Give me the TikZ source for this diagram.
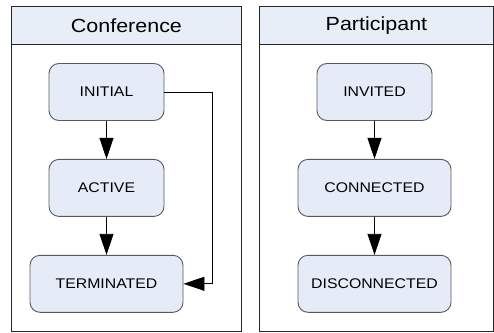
\documentclass[tikz,border=0pt]{standalone}
\usepackage{fontspec}
\setmainfont{Liberation Sans}[FakeStretch=1.13]
\usetikzlibrary{arrows.meta,positioning}

\definecolor{boxfill}{HTML}{E6ECF7}
\definecolor{headfill}{HTML}{E8EEF8}

\tikzset{
  panelhead/.style={draw=black!85, fill=headfill, line width=0.9pt, minimum height=38pt,
    anchor=north west, inner sep=0pt, font=\fontsize{19}{22}\selectfont},
  panelbody/.style={draw=black!85, line width=0.9pt, anchor=north west, inner sep=0pt},
  state/.style={draw=black!65, fill=boxfill, rounded corners=10pt, line width=0.9pt,
    minimum height=57pt, inner sep=0pt, font=\fontsize{14}{16}\selectfont},
  trans/.style={-{Triangle[length=21pt,width=14pt]}, line width=0.8pt},
}

\begin{document}
\begin{tikzpicture}[x=1pt,y=-1pt]
\useasboundingbox (0,0) rectangle (494,332);

% Conference
\node[panelbody, minimum width=230pt, minimum height=287pt] (confbody) at (11,44) {};
\node[panelhead, minimum width=230pt] (confhead) at (11,6) {Conference};

\node[state, minimum width=115pt] (initial) at (106.5,92) {INITIAL};
\node[state, minimum width=115pt, below=38pt of initial] (active) {ACTIVE};
\node[state, minimum width=153pt, below=38pt of active] (terminated) {TERMINATED};

\draw[trans] (initial) -- (active);
\draw[trans] (active) -- (terminated);
\draw[trans] (initial.east) -- ++(48,0) |- (terminated.east);

% Participant
\node[panelbody, minimum width=234pt, minimum height=287pt] (partbody) at (259,44) {};
\node[panelhead, minimum width=234pt] (parthead) at (259,6) {Participant};

\node[state, minimum width=115pt] (invited) at (374.5,92) {INVITED};
\node[state, minimum width=153pt, below=38pt of invited] (connected) {CONNECTED};
\node[state, minimum width=153pt, below=38pt of connected] (disconnected) {DISCONNECTED};

\draw[trans] (invited) -- (connected);
\draw[trans] (connected) -- (disconnected);

\end{tikzpicture}
\end{document}
